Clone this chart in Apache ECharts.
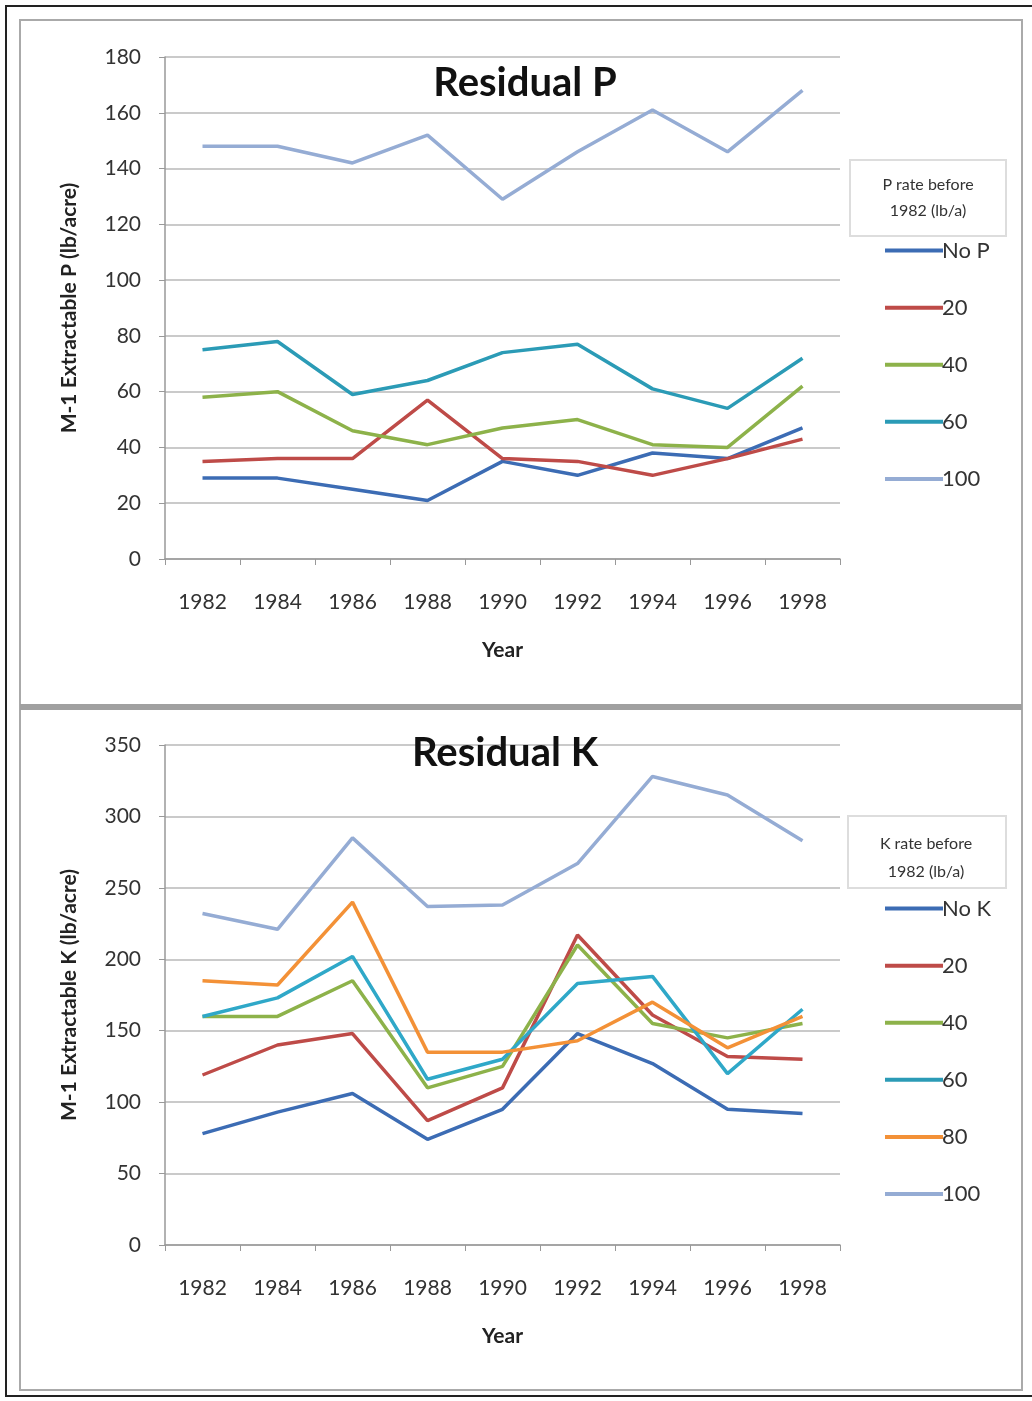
<!DOCTYPE html>
<html>
<head>
<script src="https://cdn.jsdelivr.net/npm/echarts@6/dist/echarts.min.js"></script>
<style>body{margin:0;background:#fff}#c{width:1032px;height:1401px}</style>
</head>
<body>
<div id="c"></div>
<script>
var years = ['1982','1984','1986','1988','1990','1992','1994','1996','1998'];
var pNames = ['No P','20','40','60','100'];
var pNoP = [29,29,25,21,35,30,38,36,47];
var p20 = [35,36,36,57,36,35,30,36,43];
var p40 = [58,60,46,41,47,50,41,40,62];
var p60 = [75,78,59,64,74,77,61,54,72];
var p100 = [148,148,142,152,129,146,161,146,168];
var kNames = ['No K','20','40','60','80','100'];
var kNoK = [78,93,106,74,95,148,127,95,92];
var k20 = [119,140,148,87,110,217,161,132,130];
var k40 = [160,160,185,110,125,210,155,145,155];
var k60 = [160,173,202,116,130,183,188,120,165];
var k80 = [185,182,240,135,135,143,170,138,160];
var k100 = [232,221,285,237,238,267,328,315,283];

var colP = ['#3c6cb4','#be4b48','#8db24a','#2b9bb6','#95acd4'];
var colK = ['#3c6cb4','#be4b48','#8db24a','#2fa8c8','#f39137','#95acd4'];
var font = 'Lato';
var chart = echarts.init(document.getElementById('c'));

function mkSeries(names, arrs, cols, idx){
  return names.map(function(n,i){
    return {name:n,type:'line',xAxisIndex:idx,yAxisIndex:idx,data:arrs[i],
      showSymbol:false,symbol:'none',lineStyle:{width:3.5,color:cols[i]},itemStyle:{color:cols[i]}};
  });
}
function xAx(idx){
  return {type:'category',gridIndex:idx,data:years,boundaryGap:true,
    axisLine:{lineStyle:{color:'#999',width:1.5}},axisTick:{show:true,lineStyle:{color:'#999'},length:6},
    axisLabel:{color:'#333',fontSize:21,fontFamily:font,margin:27},
    name:'Year',nameLocation:'middle',nameGap:75,nameTextStyle:{fontSize:21,fontWeight:'bold',color:'#222',fontFamily:font}};
}
function yAx(idx,max,step,name){
  return {type:'value',gridIndex:idx,min:0,max:max,interval:step,
    axisLine:{show:true,lineStyle:{color:'#999',width:1.5}},axisTick:{show:true,lineStyle:{color:'#999'},length:6},
    splitLine:{lineStyle:{color:'#b8b8b8',width:1.5}},
    axisLabel:{color:'#333',fontSize:21,fontFamily:font,margin:24},
    name:name,nameLocation:'middle',nameGap:80,nameTextStyle:{fontSize:21,fontWeight:'bold',color:'#222',fontFamily:font}};
}
function leg(names,top){
  return {orient:'vertical',left:880,top:top,itemGap:24,itemWidth:58,itemHeight:4,
    icon:'rect',data:names,textStyle:{fontSize:22,color:'#333',fontFamily:font,padding:[0,0,0,-6]}};
}
chart.setOption({
  animation:false,
  graphic:[
    {type:'rect',shape:{x:6,y:6,width:1030,height:1390},style:{fill:'none',stroke:'#222',lineWidth:2}},
    {type:'rect',shape:{x:20,y:20,width:1002,height:686},style:{fill:'none',stroke:'#aaa',lineWidth:2}},
    {type:'rect',shape:{x:20,y:706,width:1002,height:684},style:{fill:'none',stroke:'#aaa',lineWidth:2}},
    {type:'rect',shape:{x:20,y:704,width:1002,height:6},style:{fill:'#a0a0a0'}},
    {type:'rect',shape:{x:850,y:160,width:156,height:76},style:{fill:'#fff',stroke:'#ddd',lineWidth:2}},
    {type:'text',x:928,y:198,style:{text:'P rate before\n1982 (lb/a)',fill:'#333',font:'16px Lato',align:'center',verticalAlign:'middle',lineHeight:26}},
    {type:'rect',shape:{x:848,y:816,width:158,height:72},style:{fill:'#fff',stroke:'#ddd',lineWidth:2}},
    {type:'text',x:926,y:858,style:{text:'K rate before\n1982 (lb/a)',fill:'#333',font:'16px Lato',align:'center',verticalAlign:'middle',lineHeight:28}}
  ],
  title:[
    {text:'Residual P',left:520,top:47,textAlign:'center',textStyle:{fontSize:40,fontWeight:'bold',color:'#111',fontFamily:font}},
    {text:'Residual K',left:500,top:717,textAlign:'center',textStyle:{fontSize:40,fontWeight:'bold',color:'#111',fontFamily:font}}
  ],
  legend:[leg(pNames,229),leg(kNames,887)],
  grid:[
    {left:165,top:57,width:675,height:502},
    {left:165,top:745,width:675,height:500}
  ],
  xAxis:[xAx(0),xAx(1)],
  yAxis:[yAx(0,180,20,'M-1 Extractable P (lb/acre)'),yAx(1,350,50,'M-1 Extractable K (lb/acre)')],
  series:mkSeries(pNames,[pNoP,p20,p40,p60,p100],colP,0)
    .concat(mkSeries(kNames,[kNoK,k20,k40,k60,k80,k100],colK,1))
});
</script>
</body>
</html>
